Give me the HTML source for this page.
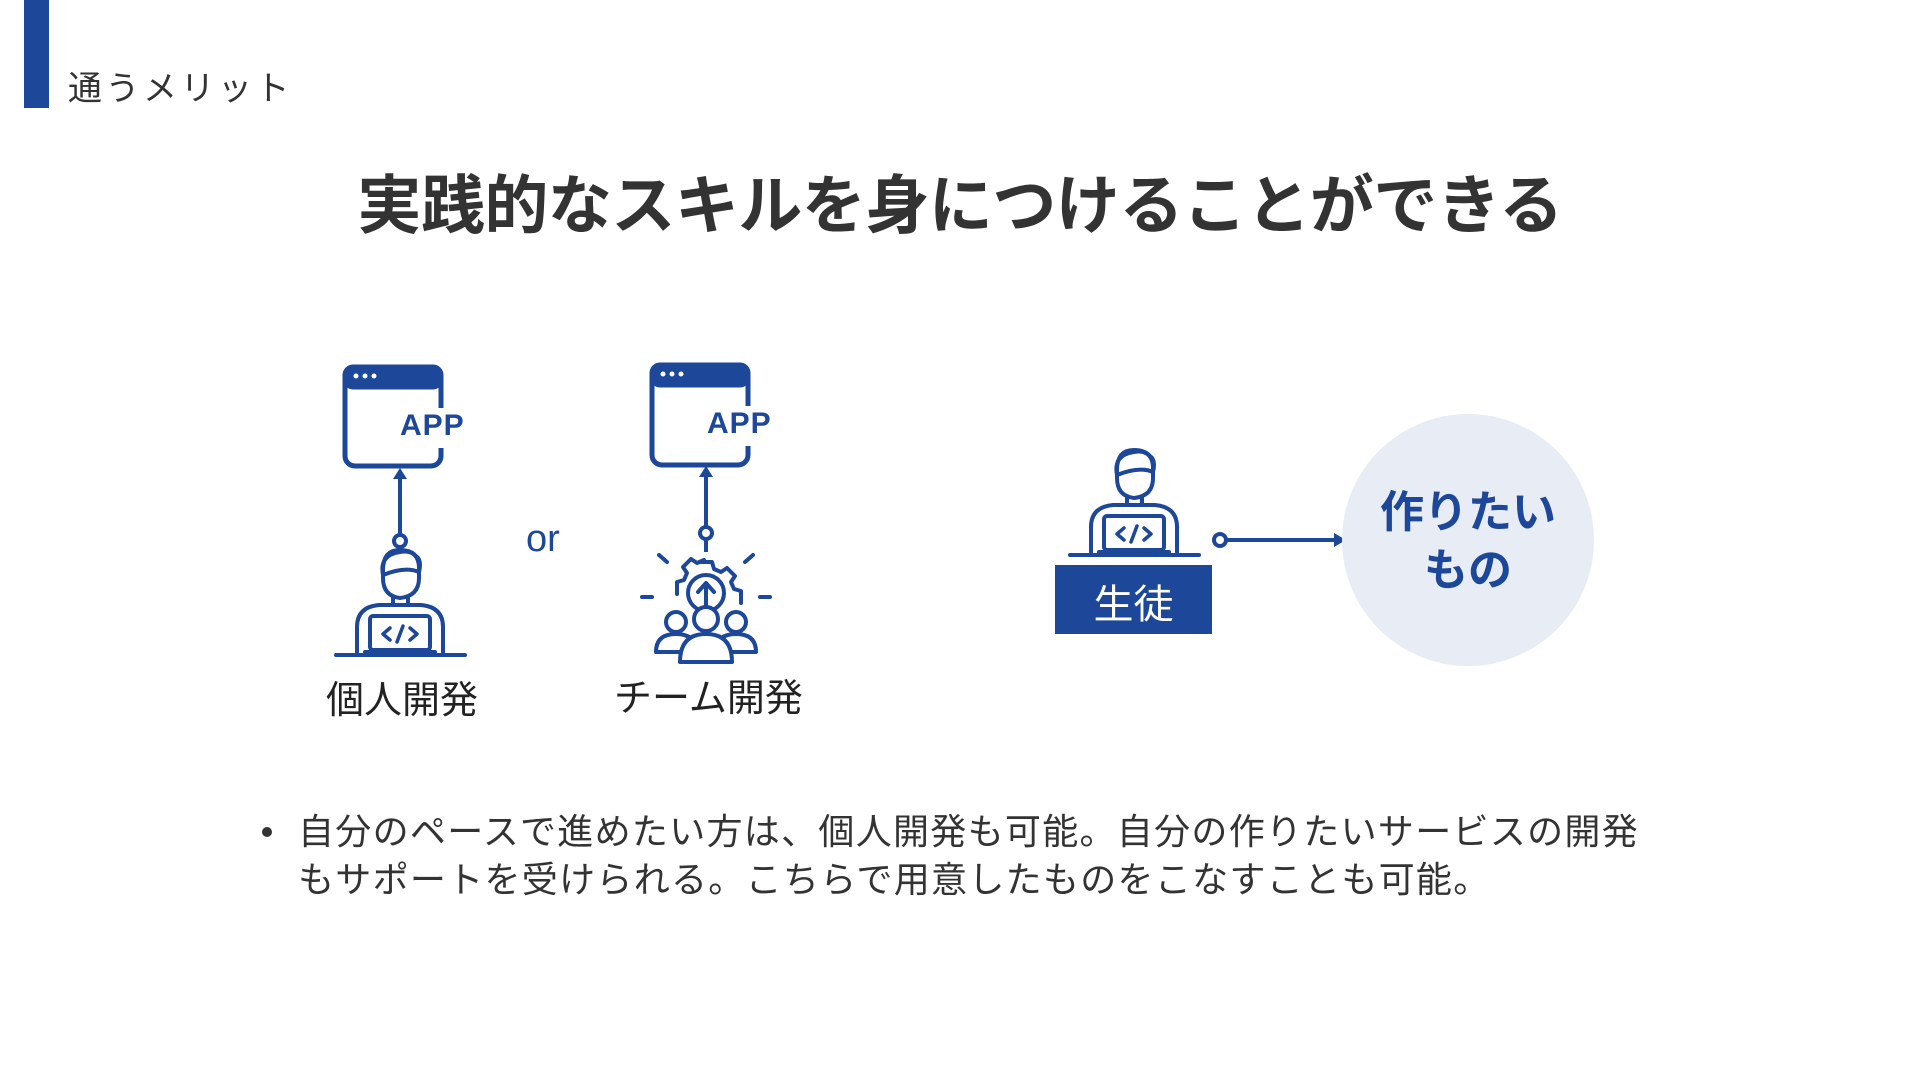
<!DOCTYPE html>
<html><head><meta charset="utf-8"><style>
html,body{margin:0;padding:0;background:#fff;}
body{width:1920px;height:1080px;overflow:hidden;position:relative;font-family:"Liberation Sans","Noto Sans CJK JP",sans-serif;}
.t{position:absolute;white-space:nowrap;}
</style></head><body>
<div style="position:absolute;left:24px;top:0;width:25px;height:108px;background:#1d4799"></div>
<div class="t" style="left:68px;top:61px;font-size:34px;color:#333;letter-spacing:3.5px">通うメリット</div>
<div class="t" style="left:0;width:1920px;text-align:center;top:155px;font-size:64px;font-weight:bold;color:#333;letter-spacing:-0.5px">実践的なスキルを身につけることができる</div>

<svg width="1920" height="1080" style="position:absolute;left:0;top:0" xmlns="http://www.w3.org/2000/svg">
<g fill="none" stroke="#1d4799" stroke-width="5" stroke-linecap="round" stroke-linejoin="round">
 <rect x="345" y="367" width="96" height="99" rx="10"/>
 <rect x="345" y="367" width="96" height="20" rx="8" fill="#1d4799"/>
 <rect x="652" y="365" width="96" height="100" rx="10"/>
 <rect x="652" y="365" width="96" height="20" rx="8" fill="#1d4799"/>
</g>
<rect x="436" y="408" width="12" height="40" fill="#fff"/>
<rect x="743" y="406" width="12" height="40" fill="#fff"/>
<g fill="#fff"><circle cx="356" cy="376" r="2.5"/><circle cx="365" cy="376" r="2.5"/><circle cx="374" cy="376" r="2.5"/>
<circle cx="663" cy="374" r="2.5"/><circle cx="672" cy="374" r="2.5"/><circle cx="681" cy="374" r="2.5"/></g>
<text x="400" y="435" font-family="Liberation Sans" font-weight="bold" font-size="30" fill="#1d4799" letter-spacing="1">APP</text>
<text x="707" y="433" font-family="Liberation Sans" font-weight="bold" font-size="30" fill="#1d4799" letter-spacing="1">APP</text>

<g stroke="#1d4799" stroke-width="4" fill="none">
 <line x1="400" y1="478" x2="400" y2="535"/><circle cx="400" cy="541" r="6" fill="#fff"/>
 <line x1="706" y1="476" x2="706" y2="527"/><circle cx="706" cy="533" r="6" fill="#fff"/>
 <line x1="706" y1="540" x2="706" y2="552"/>
 <line x1="1226" y1="540" x2="1334" y2="540"/><circle cx="1220" cy="540" r="6" fill="#fff"/>
</g>
<g fill="#1d4799">
 <polygon points="400,468 393,479 407,479"/>
 <polygon points="706,466 699,477 713,477"/>
 <polygon points="1346,540 1334,533 1334,547"/>
</g>

<g id="p" fill="none" stroke="#1d4799" stroke-width="4" stroke-linecap="round" stroke-linejoin="round">
 <path d="M383 570 q0-20 17-20 q19 0 19 18 v10 q0 18-19 20 q-17-2-17-20z"/>
 <path d="M383 575 q-4-20 17-23 q10-2 16 4 q6 4 3 16 q-14-6-36 3z"/>
 <path d="M393 597 v8 M408 597 v8"/>
 <path d="M357 652 v-25 q0-20 22-22 h42 q22 2 22 22 v25"/>
 <rect x="370" y="616" width="60" height="34" rx="3" fill="#fff"/>
 <path d="M365 652 h70"/>
 <path d="M336 655 h129"/>
 <path d="M390 628 l-7 6 7 6 M410 628 l7 6 -7 6 M403 626 l-6 16" stroke-width="3.5"/>
</g>

<g fill="none" stroke="#1d4799" stroke-width="4" stroke-linecap="round" stroke-linejoin="round">
 <path d="M700 562 h12 l2 7 l7 3 l6-4 l8 8 l-4 6 l3 7 l7 2 v12 M677 594 v-12 l7-2 l3-7 l-4-6 l8-8 l6 4 l7-3"/>
 <circle cx="706" cy="593" r="18"/>
 <path d="M706 607 v-22 M698 592 l8-9 8 9"/>
 <path d="M667 562 l-8-7 M745 562 l8-7 M652 597 h-10 M760 597 h10"/>
 <circle cx="676" cy="622" r="10" fill="#fff"/><circle cx="736" cy="622" r="10" fill="#fff"/>
 <path d="M656 652 q0-18 20-18 q20 0 20 18z M716 652 q0-18 20-18 q20 0 20 18z" fill="#fff"/>
 <circle cx="706" cy="619" r="12" fill="#fff"/>
 <path d="M680 662 q0-28 26-28 q26 0 26 28z" fill="#fff"/>
</g>

<g transform="translate(734,-100)">
 <use href="#p"/>
</g>
<rect x="1055" y="565" width="157" height="69" fill="#1d4799"/>
<circle cx="1468" cy="540" r="126" fill="#e8ecf4"/>
</svg>

<div class="t" style="left:526px;top:518px;font-size:38px;color:#1d4799">or</div>
<div class="t" style="left:326px;top:669px;font-size:38px;color:#222">個人開発</div>
<div class="t" style="left:614px;top:667px;font-size:38px;color:#222">チーム開発</div>
<div class="t" style="left:1055px;top:572px;width:157px;text-align:center;font-size:40px;color:#fff">生徒</div>
<div class="t" style="left:1342px;top:484px;width:252px;text-align:center;font-size:44px;font-weight:bold;color:#1d4799;line-height:58px">作りたい<br>もの</div>

<div style="position:absolute;left:262px;top:827px;width:10px;height:10px;border-radius:50%;background:#333"></div>
<div class="t" style="left:298px;top:808px;font-size:36px;color:#333;line-height:48px;letter-spacing:1.3px">自分のペースで進めたい方は、個人開発も可能。自分の作りたいサービスの開発<br>もサポートを受けられる。こちらで用意したものをこなすことも可能。</div>
</body></html>
